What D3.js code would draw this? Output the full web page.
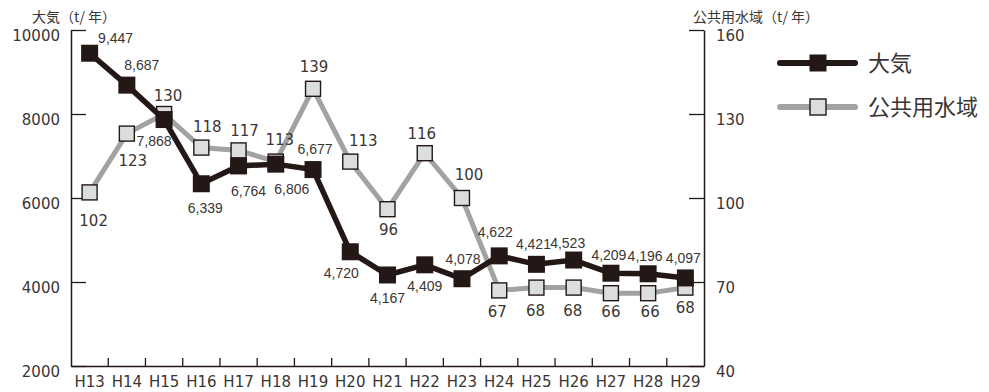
<!DOCTYPE html>
<html lang="ja">
<head>
<meta charset="utf-8">
<script src="https://cdn.jsdelivr.net/npm/d3@7/dist/d3.min.js"></script>
<style>
  html, body { margin: 0; padding: 0; background: #fff; }
  svg { display: block; }
  text { fill: #3a3634; }
</style>
</head>
<body>
<svg id="chart" width="989" height="392"></svg>
<script>
// Fiscal years (Heisei era)
const categories = ["H13","H14","H15","H16","H17","H18","H19","H20","H21","H22","H23","H24","H25","H26","H27","H28","H29"];
// Emissions to air (t/year), left axis
const airValues = [9447, 8687, 7868, 6339, 6764, 6806, 6677, 4720, 4167, 4409, 4078, 4622, 4421, 4523, 4209, 4196, 4097];
// Emissions to public water bodies (t/year), right axis
const waterValues = [102, 123, 130, 118, 117, 113, 139, 113, 96, 116, 100, 67, 68, 68, 66, 66, 68];
// Axis tick values
const leftTicks = [2000, 4000, 6000, 8000, 10000];
const rightTicks = [40, 70, 100, 130, 160];
// Series names
const seriesNames = ["大気", "公共用水域"];

// Value-label offsets from each marker centre [dx, dy]
const airLabelOffsets = [[26,-15],[15,-20],[-10,21],[4,24],[10,25],[16,25],[2,-21],[-9,21],[0,23],[0,21],[1,-20],[-4,-24],[-3,-20],[-6,-17],[-2,-18],[-3,-18],[-2,-20]];
const waterLabelOffsets = [[4,28],[6,27],[4,-18],[6,-21],[6,-20],[4,-22],[1,-22],[13,-21],[1,20],[-3,-20],[7,-23],[-2,21],[-1,23],[-1,23],[0,18],[2,18],[0,20]];

const ink = "#231815";
const textInk = "#3a3634";
const grayLine = "#a2a2a2";
const grayFill = "#dcdddd";

const svg = d3.select("#chart");
const plotLeft = 71, plotRight = 704, plotTop = 30, plotBottom = 366;

const x = d3.scaleBand().domain(categories).range([plotLeft, plotRight]).paddingInner(0).paddingOuter(0);
const cx = c => x(c) + x.bandwidth() / 2;
const yL = d3.scaleLinear().domain([2000, 10000]).range([plotBottom, plotTop]);
const yR = d3.scaleLinear().domain([40, 160]).range([plotBottom, plotTop]);

const numFont = "'DejaVu Sans', 'Liberation Sans', sans-serif";
const narrowFont = "'Liberation Sans Narrow', 'Arial Narrow', 'Liberation Sans', sans-serif";
const jpFont = "'Noto Sans CJK JP', 'Noto Sans', sans-serif";

// Left axis
const axL = svg.append("g").attr("transform", `translate(${plotLeft},0)`)
  .call(d3.axisLeft(yL).tickValues(leftTicks).tickFormat(d3.format("d"))
    .tickSizeInner(-15).tickSizeOuter(0).tickPadding(11));
axL.select(".domain").attr("stroke", ink).attr("stroke-width", 1.5);
axL.selectAll(".tick line").attr("stroke", ink).attr("stroke-width", 1.3);
axL.selectAll(".tick text").attr("font-family", numFont).attr("font-size", 15)
  .attr("dy", "0.68em").style("fill", textInk);

// Right axis
const axR = svg.append("g").attr("transform", `translate(${plotRight},0)`)
  .call(d3.axisRight(yR).tickValues(rightTicks).tickFormat(d3.format("d"))
    .tickSizeInner(-15).tickSizeOuter(0).tickPadding(12));
axR.select(".domain").attr("stroke", ink).attr("stroke-width", 1.5);
axR.selectAll(".tick line").attr("stroke", ink).attr("stroke-width", 1.3);
axR.selectAll(".tick text").attr("font-family", numFont).attr("font-size", 15)
  .attr("dy", "0.68em").style("fill", textInk);

// Bottom axis: labels at band centres, tick marks at band boundaries
const axB = svg.append("g").attr("transform", `translate(0,${plotBottom})`)
  .call(d3.axisBottom(x).tickSize(0).tickPadding(10));
axB.select(".domain").attr("stroke", ink).attr("stroke-width", 1.5);
axB.selectAll(".tick text").attr("font-family", numFont).attr("font-size", 15)
  .style("fill", textInk);
svg.append("g").selectAll("line").data(categories.slice(1)).join("line")
  .attr("x1", d => x(d)).attr("x2", d => x(d))
  .attr("y1", plotBottom).attr("y2", plotBottom - 8)
  .attr("stroke", ink).attr("stroke-width", 1.3);

// Axis titles
svg.append("text").attr("x", 32).attr("y", 22).attr("font-family", jpFont)
  .attr("font-size", 14).text("大気（t/ 年）");
svg.append("text").attr("x", 693).attr("y", 22).attr("font-family", jpFont)
  .attr("font-size", 14).text("公共用水域（t/ 年）");

// Water series (drawn underneath)
const waterLine = d3.line().x((d, i) => cx(categories[i])).y(d => yR(d));
svg.append("path").datum(waterValues).attr("d", waterLine)
  .attr("fill", "none").attr("stroke", grayLine).attr("stroke-width", 5)
  .attr("stroke-linejoin", "miter");
svg.append("g").selectAll("rect").data(waterValues).join("rect")
  .attr("x", (d, i) => cx(categories[i]) - 7.5).attr("y", d => yR(d) - 7.5)
  .attr("width", 15).attr("height", 15)
  .attr("fill", grayFill).attr("stroke", ink).attr("stroke-width", 1.4);

// Air series
const airLine = d3.line().x((d, i) => cx(categories[i])).y(d => yL(d));
svg.append("path").datum(airValues).attr("d", airLine)
  .attr("fill", "none").attr("stroke", ink).attr("stroke-width", 5.5)
  .attr("stroke-linejoin", "miter");
svg.append("g").selectAll("rect").data(airValues).join("rect")
  .attr("x", (d, i) => cx(categories[i]) - 8.5).attr("y", d => yL(d) - 8.5)
  .attr("width", 17).attr("height", 17).attr("fill", ink);

// Value labels
svg.append("g").selectAll("text").data(waterValues).join("text")
  .attr("x", (d, i) => cx(categories[i]) + waterLabelOffsets[i][0])
  .attr("y", (d, i) => yR(d) + waterLabelOffsets[i][1])
  .attr("dy", "0.36em").attr("text-anchor", "middle")
  .attr("font-family", numFont).attr("font-size", 15)
  .text(d => d3.format(",")(d));
svg.append("g").selectAll("text").data(airValues).join("text")
  .attr("x", (d, i) => cx(categories[i]) + airLabelOffsets[i][0])
  .attr("y", (d, i) => yL(d) + airLabelOffsets[i][1])
  .attr("dy", "0.36em").attr("text-anchor", "middle")
  .attr("font-family", narrowFont).attr("font-size", 14)
  .text(d => d3.format(",")(d));

// Legend
const legend = svg.append("g");
const legendRows = [
  { name: seriesNames[0], y: 63, stroke: ink, fill: ink, size: 17, outline: "none" },
  { name: seriesNames[1], y: 107, stroke: grayLine, fill: grayFill, size: 16, outline: ink }
];
legendRows.forEach(r => {
  legend.append("line").attr("x1", 780).attr("x2", 855).attr("y1", r.y).attr("y2", r.y)
    .attr("stroke", r.stroke).attr("stroke-width", 6).attr("stroke-linecap", "round");
  legend.append("rect").attr("x", 818 - r.size / 2).attr("y", r.y - r.size / 2)
    .attr("width", r.size).attr("height", r.size).attr("fill", r.fill)
    .attr("stroke", r.outline).attr("stroke-width", 1.4);
  legend.append("text").attr("x", 868).attr("y", r.y).attr("dy", "0.36em")
    .attr("font-family", jpFont).attr("font-size", 22).text(r.name);
});
</script>
</body>
</html>
